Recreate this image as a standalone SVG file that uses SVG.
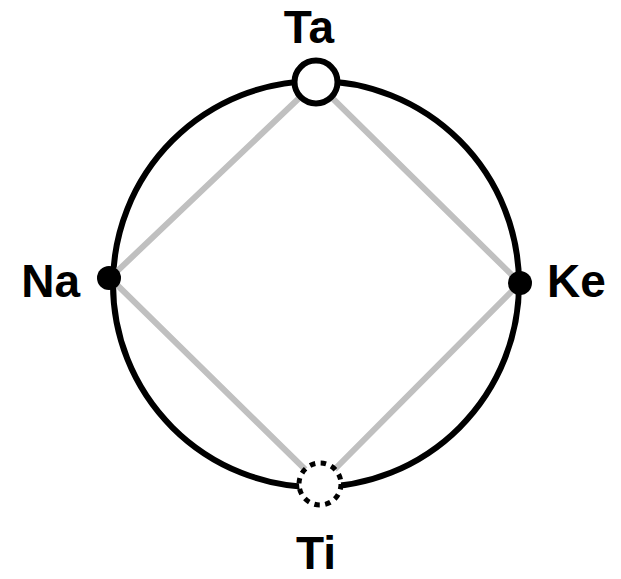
<svg xmlns="http://www.w3.org/2000/svg" width="621" height="579" viewBox="0 0 621 579">
<style>
.lbl{font-family:"Liberation Sans",Arial,sans-serif;font-weight:bold;font-size:46px;fill:#000}
.edge{stroke:#c0c0c0;stroke-width:6;fill:none}
</style>
<rect width="621" height="579" fill="#fff"/>
<g id="connectors">
<circle cx="316" cy="284" r="203" fill="none" stroke="#000" stroke-width="6"/>
<path class="edge" d="M316,82 L110,278 L320,484 L520,283 Z"/>
</g>
<g id="Ta">
<circle cx="316" cy="82" r="21.5" fill="#fff" stroke="#000" stroke-width="6"/>
<text class="lbl" x="309" y="43" text-anchor="middle">Ta</text>
</g>
<g id="Na">
<circle cx="109" cy="278" r="12" fill="#000"/>
<text class="lbl" x="80" y="297" text-anchor="end">Na</text>
</g>
<g id="Ke">
<circle cx="520" cy="283" r="12" fill="#000"/>
<text class="lbl" x="547" y="297">Ke</text>
</g>
<g id="Ti">
<circle cx="320" cy="484" r="21" fill="#fff" stroke="#000" stroke-width="5" stroke-dasharray="5.5 5.5"/>
<text class="lbl" x="316" y="569" text-anchor="middle">Ti</text>
</g>
</svg>
